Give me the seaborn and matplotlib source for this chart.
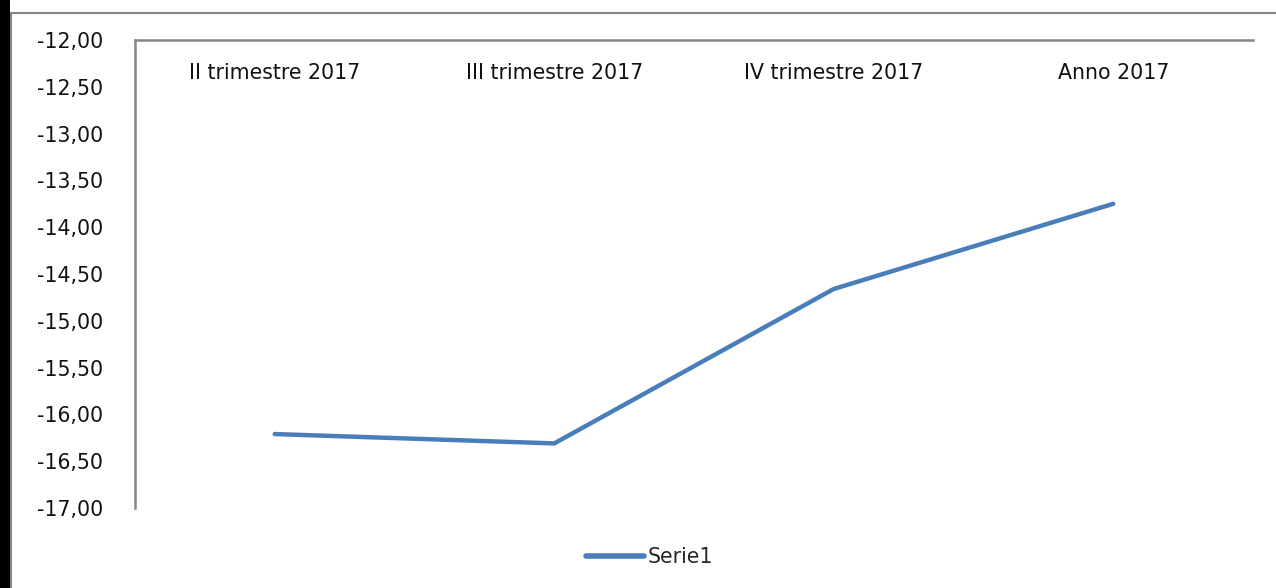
import matplotlib

matplotlib.use("Agg")
import matplotlib.pyplot as plt  # noqa: E402
import seaborn as sns  # noqa: E402
import pandas as pd  # noqa: E402
from matplotlib.patches import Rectangle  # noqa: E402
from matplotlib.ticker import FuncFormatter  # noqa: E402

# dati
periodi = ["II trimestre 2017", "III trimestre 2017", "IV trimestre 2017", "Anno 2017"]
serie1 = [-16.21, -16.31, -14.66, -13.75]
y_ticks = [-17.0, -16.5, -16.0, -15.5, -15.0, -14.5, -14.0, -13.5, -13.0, -12.5, -12.0]

sns.set_style("white")
plt.rcParams["font.family"] = ["DejaVu Sans"]

FS = 14.8

df = pd.DataFrame({"periodo": periodi, "valore": serie1})

fig = plt.figure(figsize=(12.76, 5.88), dpi=100)
ax = fig.add_axes([135 / 1276, 1 - 508 / 588, 1118 / 1276, 468 / 588])

sns.lineplot(data=df, x="periodo", y="valore", ax=ax, color="#4A7EBB",
             linewidth=3.2, solid_capstyle="round", solid_joinstyle="miter",
             label="Serie1", sort=False)

ax.set_xlim(-0.5, len(periodi) - 0.5)
ax.set_ylim(y_ticks[0], y_ticks[-1])
ax.set_yticks(y_ticks)
ax.yaxis.set_major_formatter(FuncFormatter(lambda v, p: f"{v:.2f}".replace(".", ",")))
ax.set_xticks(range(len(periodi)))
ax.set_xticklabels(periodi)
ax.xaxis.tick_top()
ax.tick_params(axis="x", length=0, pad=-31, labelsize=FS, labelcolor="#111111")
ax.tick_params(axis="y", length=0, pad=23, labelsize=FS, labelcolor="#111111")
ax.set_xlabel("")
ax.set_ylabel("")

for side in ["right", "bottom"]:
    ax.spines[side].set_visible(False)
for side in ["left", "top"]:
    ax.spines[side].set_color("#868686")
    ax.spines[side].set_linewidth(1.8)

leg = fig.legend(*ax.get_legend_handles_labels(), loc="center",
                 bbox_to_anchor=(650 / 1276, 1 - 557 / 588), frameon=False,
                 fontsize=FS, handlelength=2.8, handletextpad=0.2)
ax.get_legend().remove()
for line in leg.get_lines():
    line.set_linewidth(4.0)

# cornice esterna
fig.patches.append(Rectangle((0, 0), 10 / 1276, 1, transform=fig.transFigure,
                             facecolor="black", edgecolor="none"))
fig.patches.append(Rectangle((11 / 1276, -0.1), 1.2, 1 - 13 / 588 + 0.1,
                             transform=fig.transFigure, facecolor="none",
                             edgecolor="#868686", linewidth=1.5))

fig.savefig("out.png", dpi=100)
plt.close(fig)
